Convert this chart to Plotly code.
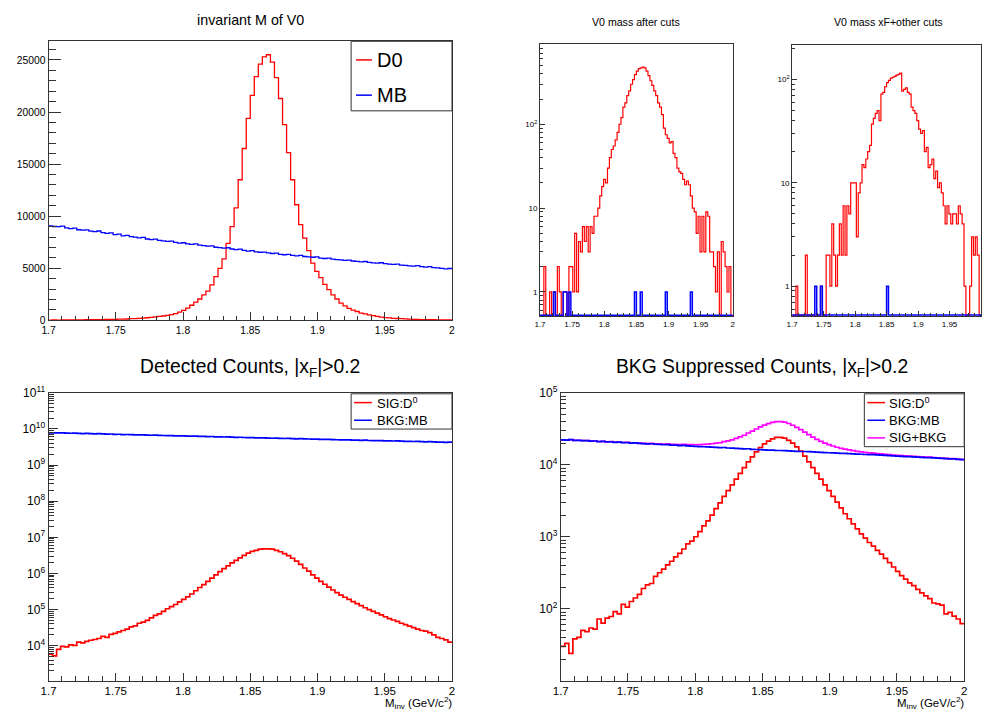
import numpy as np
import plotly.graph_objects as go

W, H = 985, 719
NB = 100
M_LO, M_HI = 1.7, 2.0

mass_ticks = [1.7, 1.75, 1.8, 1.85, 1.9, 1.95, 2.0]
mass_labels = ["1.7", "1.75", "1.8", "1.85", "1.9", "1.95", "2"]

# ---- top-left: invariant M of V0 (linear) ----
tl_d0 = [30, 35, 30, 40, 45, 40, 50, 55, 50, 60, 65, 70, 70, 80, 85, 90, 100, 110, 120, 130,
         160, 175, 190, 220, 250, 290, 340, 380, 420, 480, 560, 650, 790, 950, 1180, 1450, 1760, 2050, 2450, 2800,
         3400, 4200, 5000, 5900, 7400, 9000, 10800, 13500, 16500, 19400, 21600, 23400, 24600, 25300, 25500, 24800, 23300, 21300, 18800, 16100,
         13500, 11100, 9200, 7900, 6700, 5500, 4700, 4100, 3450, 2950, 2450, 2050, 1650, 1400, 1150, 980, 850, 700, 620, 530,
         450, 380, 320, 270, 230, 200, 180, 160, 140, 120, 100, 90, 80, 70, 65, 60, 55, 50, 45, 40]
tl_mb = [9060, 9010, 8990, 9050, 8880, 8810, 8850, 8700, 8660, 8690, 8560, 8520, 8580, 8420, 8360, 8400, 8230, 8270, 8120, 8150,
         8030, 7990, 7920, 7960, 7810, 7760, 7800, 7680, 7630, 7580, 7610, 7490, 7420, 7450, 7350, 7300, 7340, 7230, 7180, 7130,
         7160, 7020, 6980, 6940, 6970, 6850, 6800, 6830, 6720, 6650, 6690, 6580, 6540, 6560, 6470, 6420, 6450, 6330, 6300, 6340,
         6240, 6200, 6230, 6130, 6100, 6060, 6090, 5980, 5940, 5970, 5870, 5830, 5800, 5760, 5790, 5700, 5660, 5620, 5650, 5560,
         5520, 5500, 5530, 5440, 5400, 5370, 5400, 5300, 5270, 5240, 5210, 5250, 5150, 5120, 5160, 5060, 5030, 5000, 4950, 4980]

# ---- top-middle: V0 mass after cuts (log) ----
tm_d0 = [0, 0, 2, 0, 0, 1, 0, 1, 0, 2, 1, 0, 1, 1, 0, 2, 2, 1, 5, 1,
         4, 3, 6, 4, 6, 3, 6, 5, 8, 8, 10, 14, 18, 22, 20, 30, 40, 50, 55, 65,
         80, 100, 120, 160, 180, 220, 250, 300, 340, 390, 430, 460, 470, 480, 470, 430, 380, 330, 290, 250,
         220, 180, 160, 130, 90, 75, 68, 60, 62, 45, 40, 30, 27, 26, 22, 19, 21, 19, 14, 10,
         9, 5, 8, 3, 8, 3, 9, 8, 3, 3, 2, 1, 3, 0, 4, 3, 2, 1, 2, 0]
tm_mb = [0, 0, 0, 0, 0, 0, 0, 1, 0, 0, 0, 0, 1, 1, 0, 1, 0, 0, 0, 0,
         0, 0, 0, 0, 0, 0, 0, 0, 0, 0, 0, 0, 0, 0, 0, 0, 0, 0, 0, 0,
         0, 0, 0, 0, 0, 0, 0, 0, 0, 1, 0, 0, 1, 0, 0, 0, 0, 0, 0, 0,
         0, 0, 0, 0, 0, 1, 0, 0, 0, 0, 0, 0, 0, 0, 0, 0, 0, 0, 1, 0,
         0, 0, 0, 0, 0, 0, 0, 0, 0, 0, 0, 0, 0, 0, 0, 0, 0, 0, 0, 0]

# ---- top-right: V0 mass xF+other cuts (log) ----
tr_d0 = [0, 0, 1, 0, 0, 0, 0, 2, 0, 0, 0, 0, 0, 0, 0, 1, 0, 0, 2, 2,
         1, 4, 2, 1, 2, 4, 2, 6, 2, 6, 5, 10, 10, 10, 3, 8, 10, 15, 14, 17,
         20, 23, 37, 42, 47, 50, 40, 72, 75, 85, 93, 98, 103, 105, 107, 110, 112, 115, 77, 80,
         83, 75, 72, 54, 50, 47, 40, 33, 30, 32, 20, 22, 14, 15, 17, 11, 13, 9, 10, 8,
         6, 4, 6, 5, 4, 5, 5, 4, 6, 5, 4, 1, 0, 0, 1, 3, 2, 3, 2, 0]
tr_mb = [0, 0, 0, 0, 0, 0, 0, 0, 0, 0, 0, 0, 1, 0, 0, 1, 0, 0, 0, 0,
         0, 0, 0, 0, 0, 0, 0, 0, 0, 0, 0, 0, 0, 0, 0, 0, 0, 0, 0, 0,
         0, 0, 0, 0, 0, 0, 0, 0, 0, 0, 1, 0, 0, 0, 0, 0, 0, 0, 0, 0,
         0, 0, 0, 0, 0, 0, 0, 0, 0, 0, 0, 0, 0, 0, 0, 0, 0, 0, 0, 0,
         0, 0, 0, 0, 0, 0, 0, 0, 0, 0, 0, 0, 0, 0, 0, 0, 0, 0, 0, 0]

# ---- bottom-left: Detected counts (log) ----
bl_sig = [5.8e3, 5.2e3, 7.9e3, 9.5e3, 9.3e3, 1.05e4, 1.02e4, 1.26e4, 1.2e4, 1.32e4,
          1.41e4, 1.48e4, 1.58e4, 1.8e4, 1.7e4, 2.05e4, 2.2e4, 2.4e4, 2.63e4, 2.88e4,
          3.31e4, 3.55e4, 4.17e4, 4.47e4, 5.01e4, 5.89e4, 6.92e4, 7.59e4, 8.91e4, 1.05e5,
          1.2e5, 1.38e5, 1.62e5, 1.91e5, 2.24e5, 2.69e5, 3.31e5, 4.07e5, 4.9e5, 6.03e5,
          7.41e5, 9.12e5, 1.12e6, 1.35e6, 1.62e6, 1.95e6, 2.29e6, 2.69e6, 3.16e6, 3.63e6,
          4.07e6, 4.37e6, 4.68e6, 4.79e6, 4.79e6, 4.68e6, 4.37e6, 3.98e6, 3.55e6, 3.09e6,
          2.63e6, 2.19e6, 1.78e6, 1.41e6, 1.15e6, 9.12e5, 7.41e5, 6.03e5, 5.01e5, 4.17e5,
          3.47e5, 2.95e5, 2.51e5, 2.19e5, 1.91e5, 1.66e5, 1.45e5, 1.29e5, 1.12e5, 1.0e5,
          8.91e4, 7.94e4, 7.08e4, 6.31e4, 5.62e4, 5.13e4, 4.68e4, 4.17e4, 3.8e4, 3.47e4,
          3.16e4, 2.88e4, 2.63e4, 2.51e4, 2.29e4, 2.0e4, 1.7e4, 1.58e4, 1.45e4, 1.26e4]
bl_bkg = [7.80e9, 7.76e9, 7.74e9, 7.79e9, 7.65e9, 7.59e9, 7.62e9, 7.50e9, 7.46e9, 7.49e9,
          7.38e9, 7.34e9, 7.39e9, 7.26e9, 7.20e9, 7.24e9, 7.09e9, 7.12e9, 7.00e9, 7.02e9,
          6.92e9, 6.89e9, 6.83e9, 6.86e9, 6.73e9, 6.69e9, 6.72e9, 6.62e9, 6.58e9, 6.53e9,
          6.56e9, 6.45e9, 6.39e9, 6.42e9, 6.33e9, 6.29e9, 6.33e9, 6.23e9, 6.19e9, 6.14e9,
          6.17e9, 6.05e9, 6.02e9, 5.98e9, 6.01e9, 5.90e9, 5.86e9, 5.89e9, 5.79e9, 5.73e9,
          5.76e9, 5.67e9, 5.64e9, 5.65e9, 5.58e9, 5.53e9, 5.56e9, 5.46e9, 5.43e9, 5.46e9,
          5.38e9, 5.34e9, 5.37e9, 5.28e9, 5.26e9, 5.22e9, 5.25e9, 5.15e9, 5.12e9, 5.14e9,
          5.06e9, 5.02e9, 5.00e9, 4.96e9, 4.99e9, 4.91e9, 4.88e9, 4.84e9, 4.87e9, 4.79e9,
          4.76e9, 4.74e9, 4.76e9, 4.69e9, 4.65e9, 4.63e9, 4.65e9, 4.57e9, 4.54e9, 4.52e9,
          4.49e9, 4.52e9, 4.44e9, 4.41e9, 4.45e9, 4.36e9, 4.33e9, 4.31e9, 4.27e9, 4.29e9]

# ---- bottom-right: BKG suppressed counts (log) ----
br_sig = [30, 33, 24, 38, 40, 50, 48, 54, 52, 72,
          63, 74, 78, 91, 85, 115, 105, 126, 141, 158,
          191, 214, 224, 282, 316, 355, 407, 457, 525, 589,
          676, 794, 871, 1000, 1175, 1413, 1660, 1995, 2455, 2951,
          3631, 4365, 5248, 6310, 7586, 9120, 10965, 12882, 15136, 17378,
          19498, 21380, 22909, 23988, 23988, 23442, 21878, 19953, 17783, 15488,
          13183, 10965, 9120, 7586, 6310, 5248, 4365, 3631, 3020, 2512,
          2089, 1778, 1514, 1288, 1096, 955, 832, 741, 646, 575,
          501, 437, 380, 331, 288, 257, 229, 209, 186, 166,
          151, 138, 120, 117, 112, 85, 89, 79, 72, 62]
br_bkg = [22200, 22000, 22300, 21800, 21900, 21600, 21700, 21300, 21400, 21000,
          21100, 20800, 20900, 20500, 20600, 20300, 20400, 20000, 20100, 19800,
          19700, 19500, 19600, 19300, 19200, 19000, 19100, 18800, 18700, 18500,
          18600, 18300, 18200, 18000, 17900, 17800, 17700, 17600, 17500, 17300,
          17400, 17100, 17000, 16900, 16800, 16600, 16700, 16400, 16300, 16200,
          16100, 16000, 16000, 15800, 15800, 15700, 15600, 15500, 15400, 15300,
          15300, 15200, 15100, 15000, 14900, 14800, 14700, 14600, 14500, 14400,
          14400, 14300, 14200, 14100, 14000, 13900, 13800, 13800, 13700, 13600,
          13500, 13400, 13300, 13200, 13100, 13000, 13000, 12900, 12800, 12700,
          12600, 12600, 12500, 12400, 12300, 12200, 12100, 12100, 11900, 11800]

for arr in (tl_d0, tl_mb, tm_d0, tm_mb, tr_d0, tr_mb, bl_sig, bl_bkg, br_sig, br_bkg):
    assert len(arr) == NB, len(arr)

edges = np.linspace(M_LO, M_HI, NB + 1)

FONT = "Liberation Sans, Arial, Helvetica, sans-serif"
RED, BLUE, MAG = "#ff0000", "#0000ff", "#ff00ff"
AXC = "#333333"

# panel frames in pixels: (left, right, top, bottom)
frames = {
    1: (41, 449, 33, 318),
    2: (538, 733, 36, 314),
    3: (793, 984, 37, 314),
    4: (41, 449, 392, 686),
    5: (559, 967, 392, 686),
}
yranges = {1: [0, 26790], 2: [-0.292, 2.954], 3: [-0.293, 2.331], 4: [3.03, 11.0], 5: [1.0, 5.0]}
# decade labels hidden at the bottom edge of a log panel
hide_bottom_label = {5}


def fx(p):
    return p / W


def fy(p):
    return 1 - p / H


fig = go.Figure()


def add_hist(vals, n, color, width, logfloor=None):
    v = np.array(vals, dtype=float)
    if logfloor is not None:
        v = np.where(v <= 0, logfloor, v)
    y = np.append(v, v[-1])
    sfx = "" if n == 1 else str(n)
    fig.add_trace(go.Scatter(x=edges, y=y, mode="lines",
                             line=dict(shape="hv", color=color, width=width),
                             xaxis="x" + sfx, yaxis="y" + sfx,
                             showlegend=False, hoverinfo="skip"))


def floor_for(n):
    return 10 ** (yranges[n][0] + 0.013)


add_hist(tl_d0, 1, RED, 1.3)
add_hist(tl_mb, 1, BLUE, 1.3)
add_hist(tm_d0, 2, RED, 1.2, floor_for(2))
add_hist(tm_mb, 2, BLUE, 1.5, floor_for(2))
add_hist(tr_d0, 3, RED, 1.2, floor_for(3))
add_hist(tr_mb, 3, BLUE, 1.5, floor_for(3))
add_hist(bl_sig, 4, RED, 1.7)
add_hist(bl_bkg, 4, BLUE, 1.7)
br_sum = [s + b for s, b in zip(br_sig, br_bkg)]
add_hist(br_sig, 5, RED, 1.7)
add_hist(br_sum, 5, MAG, 1.7)
add_hist(br_bkg, 5, BLUE, 1.7)

layout = dict(width=W, height=H, margin=dict(l=0, r=0, t=0, b=0),
              paper_bgcolor="white", plot_bgcolor="white",
              font=dict(family=FONT, color="black"), showlegend=False)

xfont = {1: 10.3, 2: 8, 3: 8, 4: 11.5, 5: 11.5}
xlen = {1: (8, 4), 2: (5, 3), 3: (5, 3), 4: (8, 5), 5: (8, 5)}


def log_ticks(lo, hi):
    major, minor = [], []
    for e in range(int(np.floor(lo)), int(np.ceil(hi)) + 1):
        if lo - 1e-9 <= e <= hi + 1e-9:
            major.append(10.0 ** e)
        for k in range(2, 10):
            v = k * 10.0 ** e
            if lo <= np.log10(v) <= hi:
                minor.append(v)
    return major, minor


def log_label(v):
    e = int(round(np.log10(v)))
    if e == 0:
        return "1"
    if e == 1:
        return "10"
    return "10<sup>%d</sup>" % e


for n, (l, r, t, b) in frames.items():
    sfx = "" if n == 1 else str(n)
    tv = mass_ticks if n != 3 else mass_ticks[:-1]
    tt = mass_labels if n != 3 else mass_labels[:-1]
    layout["xaxis" + sfx] = dict(
        domain=[fx(l), fx(r)], range=[M_LO, M_HI], anchor="y" + sfx,
        tickmode="array", tickvals=tv, ticktext=tt,
        ticks="inside", ticklen=xlen[n][0], tickwidth=1, tickcolor=AXC,
        showline=True, mirror=True, linecolor=AXC, linewidth=1,
        showgrid=False, zeroline=False,
        tickfont=dict(size=xfont[n], family=FONT, color="black"),
        minor=dict(tickmode="linear", tick0=M_LO, dtick=0.01, ticks="inside",
                   ticklen=xlen[n][1], tickwidth=1, tickcolor=AXC, showgrid=False))
    ya = dict(domain=[fy(b), fy(t)], range=yranges[n], anchor="x" + sfx,
              showline=True, mirror=True, linecolor=AXC, linewidth=1,
              showgrid=False, zeroline=False, ticks="inside", tickwidth=1, tickcolor=AXC)
    if n == 1:
        ya.update(type="linear", tickmode="array",
                  tickvals=[0, 5000, 10000, 15000, 20000, 25000],
                  ticktext=["0", "5000", "10000", "15000", "20000", "25000"],
                  ticklen=12, tickfont=dict(size=10.3, family=FONT, color="black"),
                  minor=dict(tickmode="linear", tick0=0, dtick=1000, ticks="inside",
                             ticklen=7, tickwidth=1, tickcolor=AXC, showgrid=False))
    else:
        major, minor = log_ticks(*yranges[n])
        labels = [log_label(v) for v in major]
        if n in hide_bottom_label and abs(np.log10(major[0]) - yranges[n][0]) < 1e-6:
            labels[0] = ""
        fs = 8 if n in (2, 3) else 12
        ml = (5, 3) if n in (2, 3) else (9, 5)
        ya.update(type="log", tickmode="array", tickvals=major,
                  ticktext=labels, ticklen=ml[0],
                  tickfont=dict(size=fs, family=FONT, color="black"),
                  minor=dict(tickmode="array", tickvals=minor, ticks="inside",
                             ticklen=ml[1], tickwidth=1, tickcolor=AXC, showgrid=False))
    layout["yaxis" + sfx] = ya

fig.update_layout(**layout)

# titles
titles = [
    ("invariant M of V0", 245, 11, 14.3),
    ("V0 mass after cuts", 635, 13, 10.6),
    ("V0 mass xF+other cuts", 890, 13, 10.6),
    ("Detected Counts, |x<sub>F</sub>|>0.2", 245, 367, 19.3),
    ("BKG Suppressed Counts, |x<sub>F</sub>|>0.2", 763, 367, 19.3),
]
for txt, cx, cy, fs in titles:
    fig.add_annotation(x=fx(cx), y=fy(cy), xref="paper", yref="paper", text=txt,
                       showarrow=False, xanchor="center", yanchor="middle",
                       font=dict(size=fs, family=FONT, color="black"))

# axis titles
for rx in (449, 967):
    fig.add_annotation(x=fx(rx + 2), y=fy(719), xref="paper", yref="paper",
                       text="M<sub>inv</sub> (GeV/c<sup>2</sup>)", showarrow=False,
                       xanchor="right", yanchor="bottom",
                       font=dict(size=11.5, family=FONT, color="black"))

# legends
def legend(box, entries, fs, line_x):
    l, r, t, b = box
    fig.add_shape(type="rect", xref="paper", yref="paper", x0=fx(l), x1=fx(r),
                  y0=fy(b), y1=fy(t), line=dict(color=AXC, width=1), fillcolor="white",
                  layer="above")
    for label, color, yc in entries:
        fig.add_shape(type="line", xref="paper", yref="paper", x0=fx(line_x[0]), x1=fx(line_x[1]),
                      y0=fy(yc), y1=fy(yc), line=dict(color=color, width=1.5), layer="above")
        fig.add_annotation(x=fx(line_x[2]), y=fy(yc), xref="paper", yref="paper", text=label,
                           showarrow=False, xanchor="left", yanchor="middle",
                           font=dict(size=fs, family=FONT, color="black"))


legend((347, 449, 33, 104), [("D0", RED, 52), ("MB", BLUE, 88)], 20, (352, 368, 371))
legend((347, 449, 393, 429), [("SIG:D<sup>0</sup>", RED, 402), ("BKG:MB", BLUE, 420)], 13, (350, 368, 371))
legend((866, 967, 393, 447), [("SIG:D<sup>0</sup>", RED, 402), ("BKG:MB", BLUE, 420),
                              ("SIG+BKG", MAG, 438)], 13, (869, 887, 889))

fig.write_html("out.html")
